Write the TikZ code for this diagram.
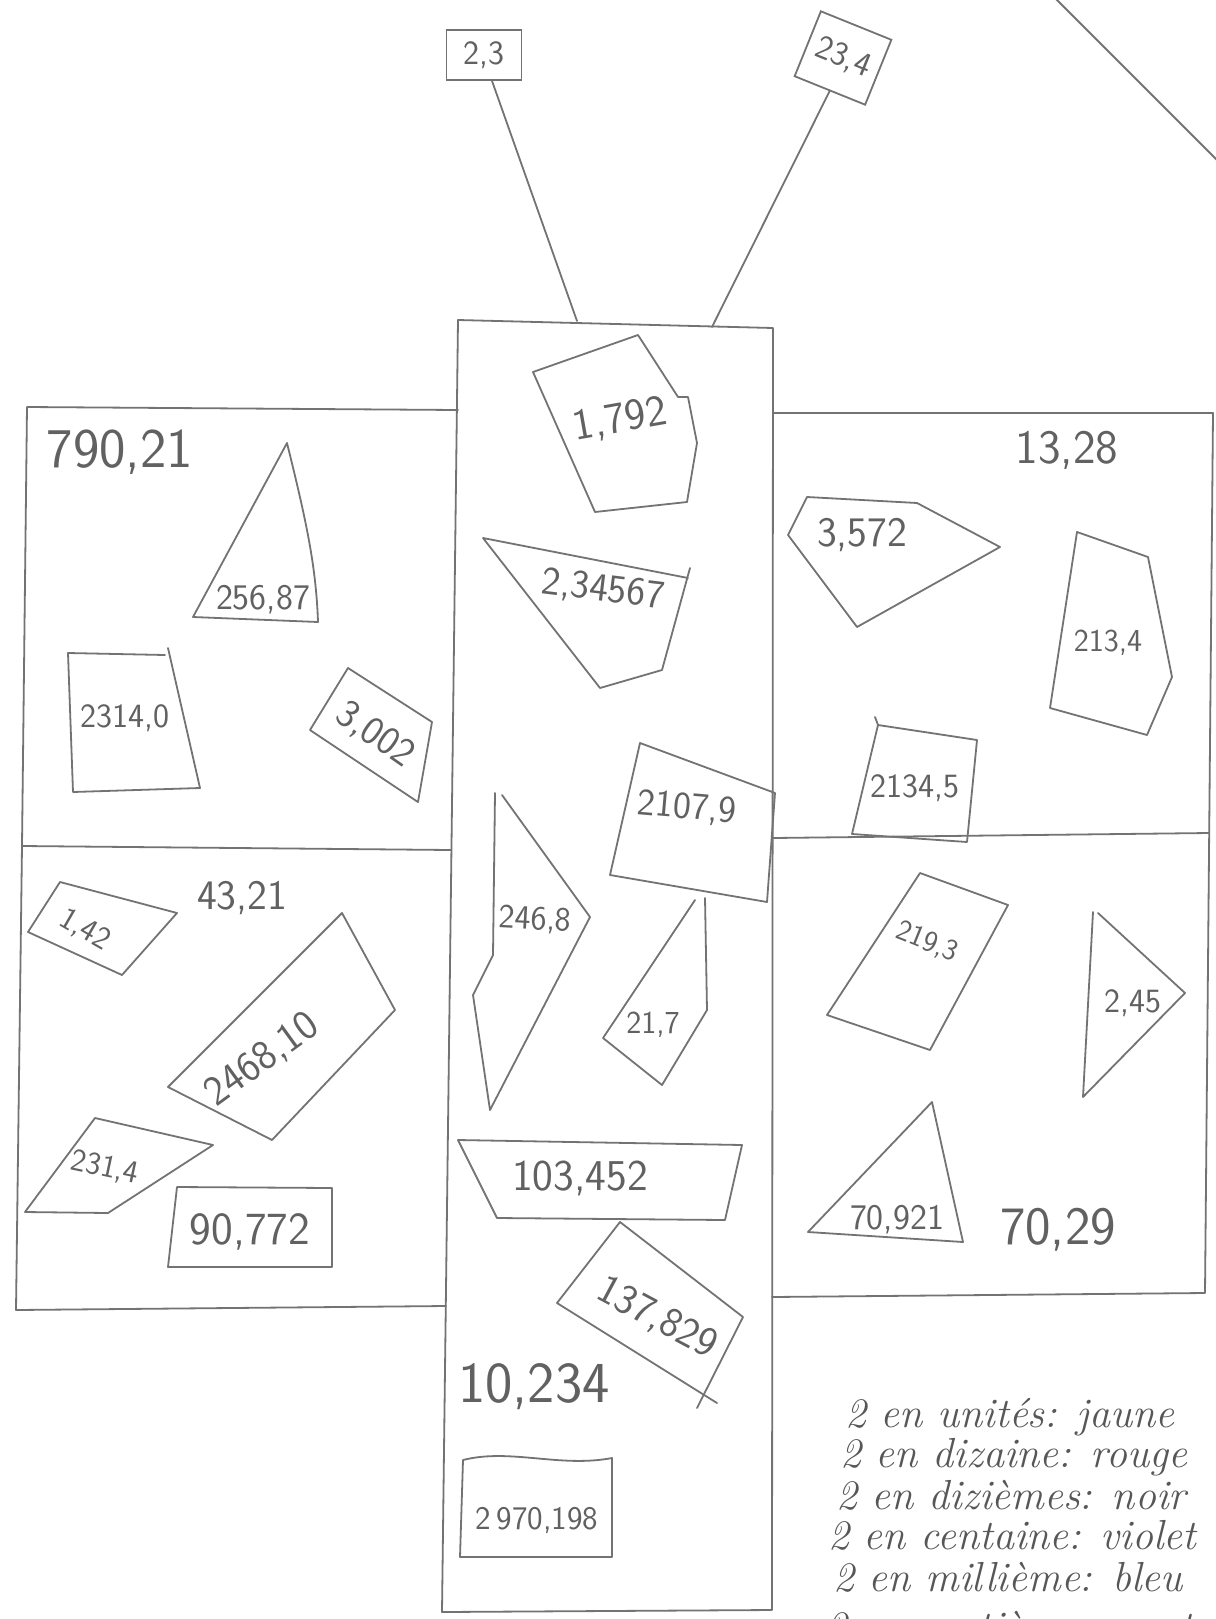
\documentclass[tikz,border=0pt]{standalone}
\usepackage{fontspec}
\begin{document}
\begin{tikzpicture}[x=1pt,y=-1pt,
  ink/.style={draw=black!55, line width=1.8pt, line join=round, line cap=round},
  lab/.style={text=black!62, font=\fontsize{#1}{#1}\sffamily\selectfont, inner sep=0pt},
  leg/.style={text=black!66, font=\fontsize{42}{42}\itshape\selectfont, inner sep=0pt, anchor=west},
  tagbox/.style={draw=black!55, line width=1.8pt, text=black!62, inner sep=0pt, font=\fontsize{34}{34}\sffamily\selectfont}]
\useasboundingbox (0,0) rectangle (1215,1619);
\fill[white] (0,0) rectangle (1215,1619);

% ---- frame ----
\draw[ink] (458,320) -- (773,328) -- (772,1610) -- (442,1612) -- cycle;
\draw[ink] (458,410) -- (27,407) -- (22,846) -- (16,1310) -- (446,1306);
\draw[ink] (22,846) -- (451,850);
\draw[ink] (773,413) -- (1213,413) -- (1205,1293) -- (772,1297);
\draw[ink] (773,838) -- (1209,833);
\draw[ink] (1055,-2) -- (1217,160);

% ---- top tags ----
\node[tagbox, minimum width=75, minimum height=50] (b23) at (484,55) {2,3};
\node[tagbox, rotate=-22, minimum width=76, minimum height=70] (b234) at (843,58) {23,4};
\coordinate (c1) at (577,321);
\coordinate (c2) at (712,327);
\draw[ink] ([xshift=8pt]b23.south) -- (c1);
\draw[ink] (b234.south) -- (c2);

% ---- upper left panel ----
\node[lab=56] (n79021) at (120,452) {790,21};
\draw[ink] (287,443) .. controls (306,520) and (316,565) .. (318,622) -- (193,617) -- cycle;
\node[lab=36] (n25687) at (263,600) {256,87};
\draw[ink] (165,655) -- (68,653) -- (73,792) -- (200,788) -- (168,648);
\node[lab=34] (n23140) at (125,718) {2314,0};
\draw[ink] (348,668) -- (432,722) -- (418,802) -- (310,730) -- cycle;
\node[lab=40, rotate=-35] (n3002) at (375,735) {3,002};

% ---- lower left panel ----
\node[lab=42] (n4321) at (242,898) {43,21};
\draw[ink] (60,882) -- (177,913) -- (122,975) -- (28,932) -- cycle;
\node[lab=32, rotate=-30] (n142) at (85,930) {1,42};
\draw[ink] (342,913) -- (395,1010) -- (272,1140) -- (168,1087) -- cycle;
\node[lab=42, rotate=36] (n246810) at (262,1060) {2468,10};
\draw[ink] (95,1118) -- (213,1145) -- (108,1213) -- (25,1212) -- cycle;
\node[lab=32, rotate=-12] (n2314) at (105,1168) {231,4};
\draw[ink] (177,1187) -- (332,1188) -- (332,1267) -- (168,1267) -- cycle;
\node[lab=46] (n90772) at (250,1232) {90,772};

% ---- central column ----
\draw[ink] (533,372) -- (638,335) -- (678,397) -- (688,397) -- (697,443) -- (687,502) -- (595,512) -- cycle;
\node[lab=44, rotate=10] (n1792) at (620,420) {1,792};
\draw[ink] (690,568) -- (662,670) -- (600,688) -- (483,538) -- (688,578);
\node[lab=40, rotate=-7] (n234567) at (603,590) {2,34567};
\draw[ink] (640,743) -- (775,793) -- (767,902) -- (610,875) -- cycle;
\node[lab=38, rotate=-5] (n21079) at (687,808) {2107,9};
\draw[ink] (502,795) -- (590,917) -- (490,1110) -- (473,995) -- (493,955) -- (495,793);
\node[lab=34, rotate=-3] (n2468) at (535,920) {246,8};
\draw[ink] (695,900) -- (603,1038) -- (662,1085) -- (707,1010) -- (705,898);
\node[lab=32] (n217) at (653,1025) {21,7};
\draw[ink] (458,1140) -- (742,1145) -- (725,1220) -- (497,1218) -- cycle;
\node[lab=44] (n103452) at (580,1178) {103,452};
\draw[ink] (620,1222) -- (743,1317) -- (697,1408);
\draw[ink] (620,1222) -- (557,1303) -- (717,1403);
\node[lab=42, rotate=-28] (n137829) at (657,1318) {137,829};
\node[lab=58] (n10234) at (534,1387) {10,234};
\draw[ink] (463,1460) .. controls (510,1448) and (560,1468) .. (612,1458) -- (612,1557) -- (460,1557) -- cycle;
\node[lab=33] (n2970198) at (537,1520) {2\,970,198};

% ---- upper right panel ----
\node[lab=48] (n1328) at (1067,450) {13,28};
\draw[ink] (807,497) -- (917,503) -- (1000,547) -- (857,627) -- (788,535) -- cycle;
\node[lab=42] (n3572) at (862,535) {3,572};
\draw[ink] (1077,532) -- (1148,557) -- (1172,677) -- (1147,735) -- (1050,708) -- cycle;
\node[lab=32] (n2134) at (1108,643) {213,4};
\draw[ink] (875,717) -- (878,725) -- (977,740) -- (967,842) -- (852,834) -- (878,725);
\node[lab=34] (n21345) at (915,788) {2134,5};

% ---- lower right panel ----
\draw[ink] (920,873) -- (1008,905) -- (930,1050) -- (827,1015) -- cycle;
\node[lab=30, rotate=-22] (n2193) at (927,942) {219,3};
\draw[ink] (1098,913) -- (1185,993) -- (1083,1097) -- (1093,912);
\node[lab=34] (n245) at (1133,1003) {2,45};
\draw[ink] (932,1102) -- (963,1242) -- (808,1232) -- cycle;
\node[lab=36] (n70921) at (897,1220) {70,921};
\node[lab=54] (n7029) at (1058,1230) {70,29};

% ---- legend ----
\node[leg] (l1) at (845,1417) {2 en unités: jaune};
\node[leg] (l2) at (840,1457) {2 en dizaine: rouge};
\node[leg] (l3) at (836,1495) {2 en dizièmes: noir};
\node[leg] (l4) at (828,1535) {2 en centaine: violet};
\node[leg] (l5) at (833,1577) {2 en millième: bleu};
\node[leg] (l6) at (826,1626) {2 en centièmes: vert};
\end{tikzpicture}
\end{document}
